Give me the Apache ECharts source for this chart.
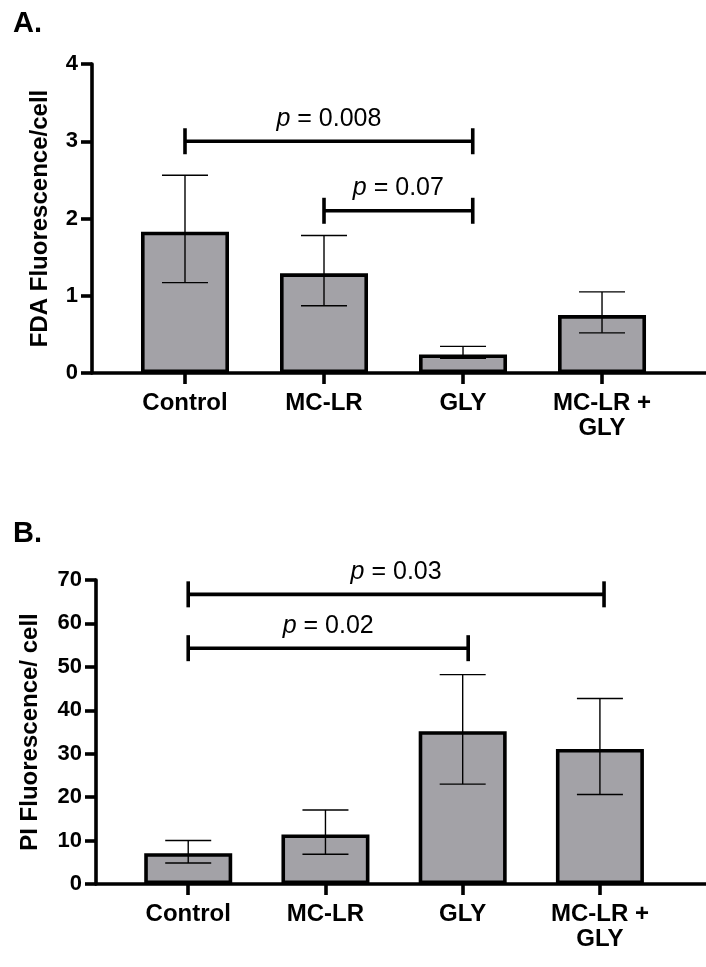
<!DOCTYPE html>
<html lang="en" style="height: 100%">
<head>
    <meta charset="utf-8">
</head>
<body style="height: 100%; margin: 0; background: #fff">
<div id="container" style="width: 706px; height: 967px"></div>
<script type="text/javascript" src="https://fastly.jsdelivr.net/npm/echarts@6.0.0/dist/echarts.min.js"></script>
<script type="text/javascript">

    const categories = ['Control', 'MC-LR', 'GLY', 'MC-LR +\nGLY'];

    // panel A: FDA fluorescence per cell
    const fdaMean = [1.83, 1.29, 0.24, 0.75];
    const fdaLow = [1.17, 0.87, 0.19, 0.52];
    const fdaHigh = [2.56, 1.78, 0.345, 1.05];
    // [from, to, height, p text]
    const fdaPairs = [[0, 2.07, 3.0, '0.008'], [1, 2.07, 2.1, '0.07']];
    const fdaTicks = [0, 1, 2, 3, 4];

    // panel B: PI fluorescence per cell
    const piMean = [7.1, 11.4, 35.2, 31.1];
    const piLow = [4.85, 6.85, 23.0, 20.6];
    const piHigh = [10.0, 17.05, 48.2, 42.7];
    const piPairs = [[0, 3.03, 66.7, '0.03'], [0, 2.04, 54.3, '0.02']];
    const piTicks = [0, 10, 20, 30, 40, 50, 60, 70];

    const font = 'Liberation Sans, Arial, sans-serif';
    const barFill = '#a3a2a7';

    var dom = document.getElementById('container');
    var myChart = echarts.init(dom, null, {renderer: 'canvas'});

    function errorBars(params, api) {
        const x = api.value(0);
        const lo = api.coord([x, api.value(1)]);
        const hi = api.coord([x, api.value(2)]);
        const w = 23;
        const style = {stroke: '#000', lineWidth: 1.4};
        return {
            type: 'group',
            children: [
                {type: 'line', shape: {x1: lo[0], y1: lo[1], x2: hi[0], y2: hi[1]}, style: style},
                {type: 'line', shape: {x1: hi[0] - w, y1: hi[1], x2: hi[0] + w, y2: hi[1]}, style: style},
                {type: 'line', shape: {x1: lo[0] - w, y1: lo[1], x2: lo[0] + w, y2: lo[1]}, style: style}
            ]
        };
    }

    function brackets(pairs) {
        return function (params, api) {
            const a = api.coord([api.value(0), api.value(2)]);
            const b = api.coord([api.value(1), api.value(2)]);
            const h = 13;
            const style = {stroke: '#000', lineWidth: 3.6};
            return {
                type: 'group',
                children: [
                    {type: 'line', shape: {x1: a[0], y1: a[1], x2: b[0], y2: b[1]}, style: style},
                    {type: 'line', shape: {x1: a[0], y1: a[1] - h, x2: a[0], y2: a[1] + h}, style: style},
                    {type: 'line', shape: {x1: b[0], y1: b[1] - h, x2: b[0], y2: b[1] + h}, style: style},
                    {
                        type: 'text',
                        style: {
                            x: (a[0] + b[0]) / 2,
                            y: a[1] - 10,
                            text: '{i|p} = ' + pairs[params.dataIndex][3],
                            align: 'center',
                            verticalAlign: 'bottom',
                            fontFamily: font,
                            fontSize: 25,
                            fill: '#000',
                            rich: {i: {fontStyle: 'italic', fontFamily: font, fontSize: 25}}
                        }
                    }
                ]
            };
        };
    }

    function xAxisFor(gridIndex, min, max) {
        return {
            type: 'value',
            gridIndex: gridIndex,
            min: min,
            max: max,
            splitLine: {show: false},
            axisLine: {show: true, onZero: false, lineStyle: {color: '#000', width: 3.6}},
            axisTick: {show: true, customValues: [0, 1, 2, 3], length: 11, lineStyle: {color: '#000', width: 3.6}},
            axisLabel: {
                customValues: [0, 1, 2, 3],
                formatter: v => categories[Math.round(v)],
                margin: 18,
                color: '#000',
                fontFamily: font,
                fontWeight: 'bold',
                fontSize: 24,
                lineHeight: 25
            }
        };
    }

    function yAxisFor(gridIndex, ticks, name, nameGap) {
        return {
            type: 'value',
            gridIndex: gridIndex,
            min: ticks[0],
            max: ticks[ticks.length - 1],
            interval: ticks[1] - ticks[0],
            name: name,
            nameLocation: 'middle',
            nameGap: nameGap,
            nameTextStyle: {color: '#000', fontFamily: font, fontWeight: 'bold', fontSize: 24},
            splitLine: {show: false},
            axisLine: {show: true, onZero: false, lineStyle: {color: '#000', width: 3.6}},
            axisTick: {show: true, length: 11, lineStyle: {color: '#000', width: 3.6}},
            axisLabel: {color: '#000', fontFamily: font, fontWeight: 'bold', fontSize: 22, margin: 14}
        };
    }

    function barSeries(axisIndex, means) {
        return {
            type: 'bar',
            xAxisIndex: axisIndex,
            yAxisIndex: axisIndex,
            barWidth: 88,
            data: means.map((m, i) => [i, m]),
            itemStyle: {color: barFill, borderColor: '#000', borderWidth: 3.6},
            silent: true
        };
    }

    const option = {
        animation: false,
        backgroundColor: '#fff',
        title: [
            {text: 'A.', left: 8, top: 4, textStyle: {fontFamily: font, fontWeight: 'bold', fontSize: 29, color: '#000'}},
            {text: 'B.', left: 8, top: 514, textStyle: {fontFamily: font, fontWeight: 'bold', fontSize: 29, color: '#000'}}
        ],
        grid: [
            {left: 92, right: 0, top: 64, height: 309},
            {left: 96, right: 0, top: 580, height: 304}
        ],
        xAxis: [
            xAxisFor(0, -0.669, 3.748),
            xAxisFor(1, -0.672, 3.773)
        ],
        yAxis: [
            yAxisFor(0, fdaTicks, 'FDA Fluorescence/cell', 40),
            yAxisFor(1, piTicks, 'PI Fluorescence/ cell', 54)
        ],
        series: [
            barSeries(0, fdaMean),
            {
                type: 'custom',
                xAxisIndex: 0,
                yAxisIndex: 0,
                z: 5,
                renderItem: errorBars,
                data: fdaMean.map((m, i) => [i, fdaLow[i], fdaHigh[i]])
            },
            {
                type: 'custom',
                xAxisIndex: 0,
                yAxisIndex: 0,
                z: 5,
                renderItem: brackets(fdaPairs),
                data: fdaPairs.map(p => [p[0], p[1], p[2]])
            },
            barSeries(1, piMean),
            {
                type: 'custom',
                xAxisIndex: 1,
                yAxisIndex: 1,
                z: 5,
                renderItem: errorBars,
                data: piMean.map((m, i) => [i, piLow[i], piHigh[i]])
            },
            {
                type: 'custom',
                xAxisIndex: 1,
                yAxisIndex: 1,
                z: 5,
                renderItem: brackets(piPairs),
                data: piPairs.map(p => [p[0], p[1], p[2]])
            }
        ]
    };

    myChart.setOption(option);

</script>
</body>
</html>
